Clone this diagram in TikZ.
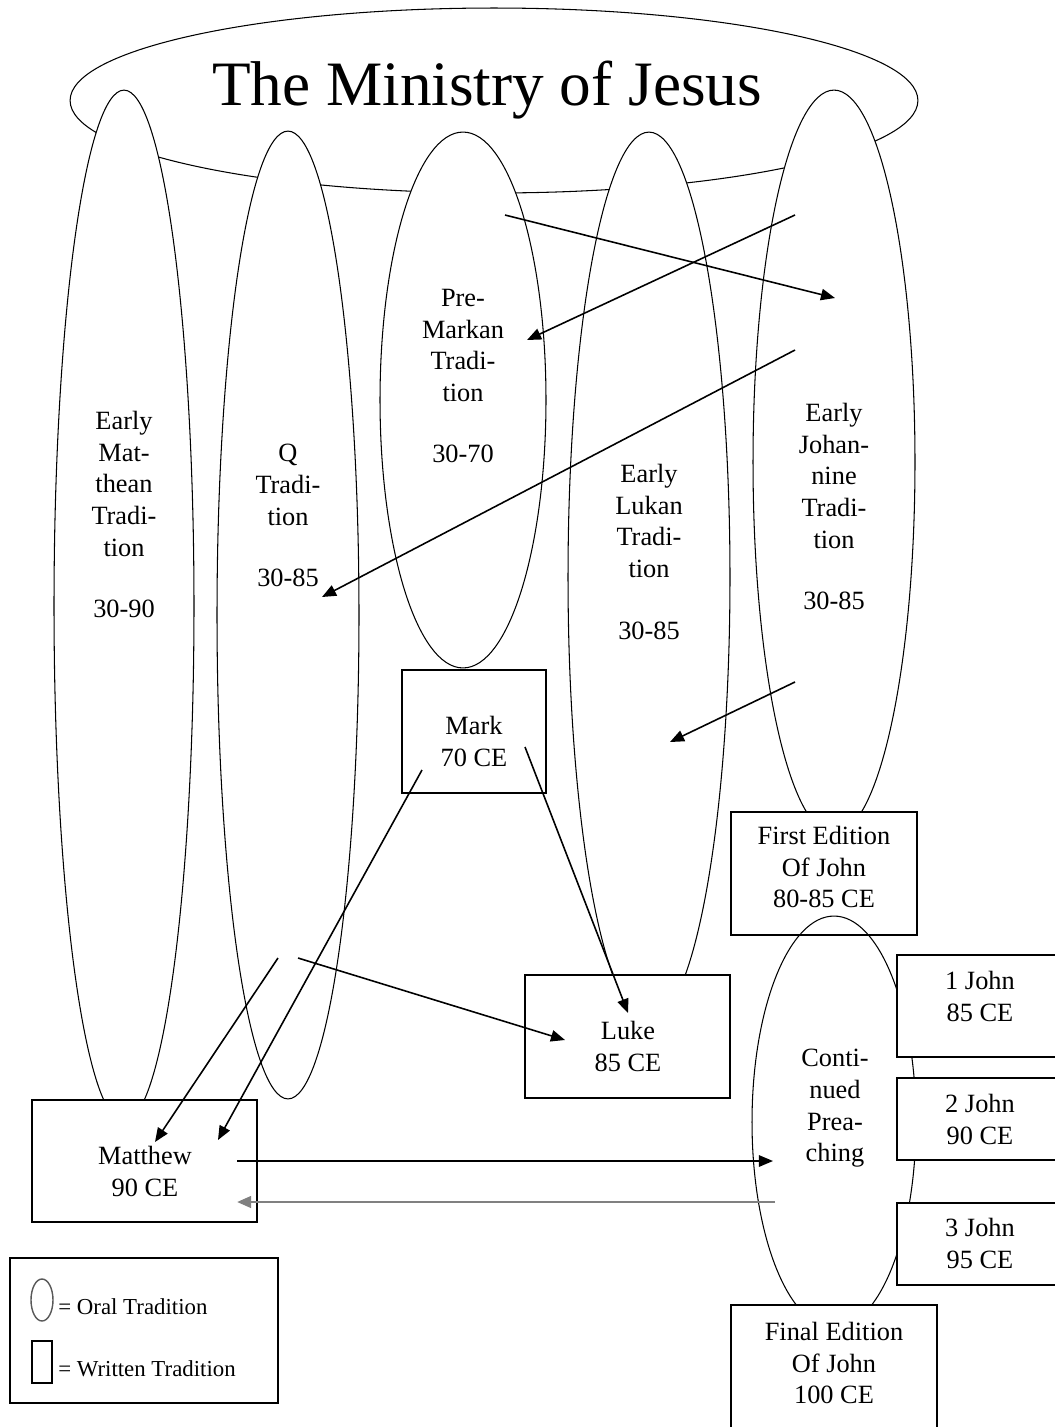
\documentclass[tikz,border=0pt]{standalone}
\usepackage{fontspec}
\setmainfont{Liberation Serif}
\usetikzlibrary{arrows.meta,shapes.geometric}

\begin{document}
\begin{tikzpicture}[
    x=0.02cm,y=-0.02cm,
    font=\fontsize{15}{18}\selectfont,
    oral/.style={draw=black,line width=0.6pt,ellipse,fill=white,inner sep=0pt},
    written/.style={draw=black,line width=0.8pt,rectangle,fill=white,inner sep=0pt},
    lbl/.style={align=center,inner sep=0pt,anchor=north},
    arr/.style={-{Triangle[length=8pt,width=6.5pt]},line width=0.9pt,draw=black},
    back/.style={-{Triangle[length=8pt,width=6.5pt]},line width=1.6pt,draw=gray}
  ]
  \useasboundingbox (0,0) rectangle (1055,1427);
  \fill[white] (0,0) rectangle (1055,1427);
  \clip (0,0) rectangle (1055,1427);

  % oral traditions
  \node[oral,minimum width=16.96cm,minimum height=3.70cm] (ministry) at (494,100.5) {};
  \node[oral,minimum width=2.80cm,minimum height=20.64cm] (matthean) at (124,606) {};
  \node[oral,minimum width=2.84cm,minimum height=19.36cm] (qsrc) at (288,615) {};
  \node[oral,minimum width=3.32cm,minimum height=10.72cm] (premark) at (463,400) {};
  \node[oral,minimum width=3.24cm,minimum height=17.80cm] (lukan) at (649,577) {};
  \node[oral,minimum width=3.24cm,minimum height=14.88cm] (johannine) at (834,462) {};
  \node[inner sep=0pt,anchor=north,font=\fontsize{36}{43}\selectfont] (title) at (487,61) {The Ministry of Jesus};

  % written traditions
  \node[written,minimum width=2.88cm,minimum height=2.46cm] (mark) at (474,731.5) {};
  \node[written,minimum width=4.10cm,minimum height=2.46cm] (luke) at (627.5,1036.5) {};
  \node[written,minimum width=4.50cm,minimum height=2.44cm] (matthew) at (144.5,1161) {};
  \node[written,minimum width=3.72cm,minimum height=2.46cm] (firstjn) at (824,873.5) {};
  \node[draw=black,line width=0.6pt,ellipse,inner sep=0pt,minimum width=3.28cm,minimum height=8.24cm] (preach) at (834,1122) {};
  \node[written,minimum width=3.32cm,minimum height=2.04cm] (onejn) at (980,1006) {};
  \node[written,minimum width=3.32cm,minimum height=1.64cm] (twojn) at (980,1119) {};
  \node[written,minimum width=3.32cm,minimum height=1.64cm] (threejn) at (980,1244) {};
  \node[written,minimum width=4.12cm,minimum height=2.70cm] (finaljn) at (834,1372.5) {};

  % legend
  \node[written,minimum width=5.36cm,minimum height=2.90cm] (legend) at (144,1330.5) {};
  \node[draw=gray!70!black,line width=0.8pt,ellipse,inner sep=0pt,minimum width=0.44cm,minimum height=0.84cm] (legoral) at (42,1300) {};
  \node[draw=black,line width=0.8pt,inner sep=0pt,minimum width=0.40cm,minimum height=0.84cm] (legwritten) at (42,1362) {};
  \node[anchor=west,inner sep=0pt,font=\fontsize{13}{15}\selectfont] (legoraltxt) at (58,1307) {= Oral Tradition};
  \node[anchor=west,inner sep=0pt,font=\fontsize{13}{15}\selectfont] (legwrittentxt) at (58,1369) {= Written Tradition};

  % arrows
  \coordinate (mkout) at (505,215);   \coordinate (jnin) at (835,298);
  \coordinate (jnoutA) at (795,215);  \coordinate (mkin) at (527,340);
  \coordinate (jnoutB) at (795,350);  \coordinate (qin) at (322,597);
  \coordinate (jnoutC) at (795,682);  \coordinate (lkin) at (670,742);
  \coordinate (markoutA) at (422,770); \coordinate (mattinB) at (218,1140);
  \coordinate (markoutB) at (525,747); \coordinate (lukeinA) at (628,1013);
  \coordinate (qoutA) at (278,958);   \coordinate (mattinA) at (155,1142);
  \coordinate (qoutB) at (298,958);   \coordinate (lukeinB) at (565,1040);
  \coordinate (mattout) at (237,1161); \coordinate (preachin) at (773,1161);
  \coordinate (preachout) at (775,1202); \coordinate (mattin) at (237,1202);
  \draw[arr] (mkout) -- (jnin);
  \draw[arr] (jnoutA) -- (mkin);
  \draw[arr] (jnoutB) -- (qin);
  \draw[arr] (jnoutC) -- (lkin);
  \draw[arr] (markoutA) -- (mattinB);
  \draw[arr] (markoutB) -- (lukeinA);
  \draw[arr] (qoutA) -- (mattinA);
  \draw[arr] (qoutB) -- (lukeinB);
  \draw[arr] (mattout) -- (preachin);
  \draw[back] (preachout) -- (mattin);

  % labels
  \node[lbl] (mattheantxt) at (124,411) {Early\\Mat-\\thean\\Tradi-\\tion\\[17pt]30-90};
  \node[lbl] (qtxt) at (288,444) {Q\\Tradi-\\tion\\[17pt]30-85};
  \node[lbl] (premarktxt) at (463,289) {Pre-\\Markan\\Tradi-\\tion\\[17pt]30-70};
  \node[lbl] (lukantxt) at (649,464) {Early\\Lukan\\Tradi-\\tion\\[17pt]30-85};
  \node[lbl] (johanninetxt) at (834,403) {Early\\Johan-\\nine\\Tradi-\\tion\\[17pt]30-85};
  \node[lbl] (preachtxt) at (835,1049) {Conti-\\nued\\Prea-\\ching};
  \node[lbl] (marktxt) at (474,716) {Mark\\70 CE};
  \node[lbl] (firstjntxt) at (824,826) {First Edition\\Of John\\80-85 CE};
  \node[lbl] (luketxt) at (628,1021) {Luke\\85 CE};
  \node[lbl] (matthewtxt) at (145,1146) {Matthew\\90 CE};
  \node[lbl] (onejntxt) at (980,971) {1 John\\85 CE};
  \node[lbl] (twojntxt) at (980,1094) {2 John\\90 CE};
  \node[lbl] (threejntxt) at (980,1218) {3 John\\95 CE};
  \node[lbl] (finaljntxt) at (834,1322) {Final Edition\\Of John\\100 CE};
\end{tikzpicture}
\end{document}
